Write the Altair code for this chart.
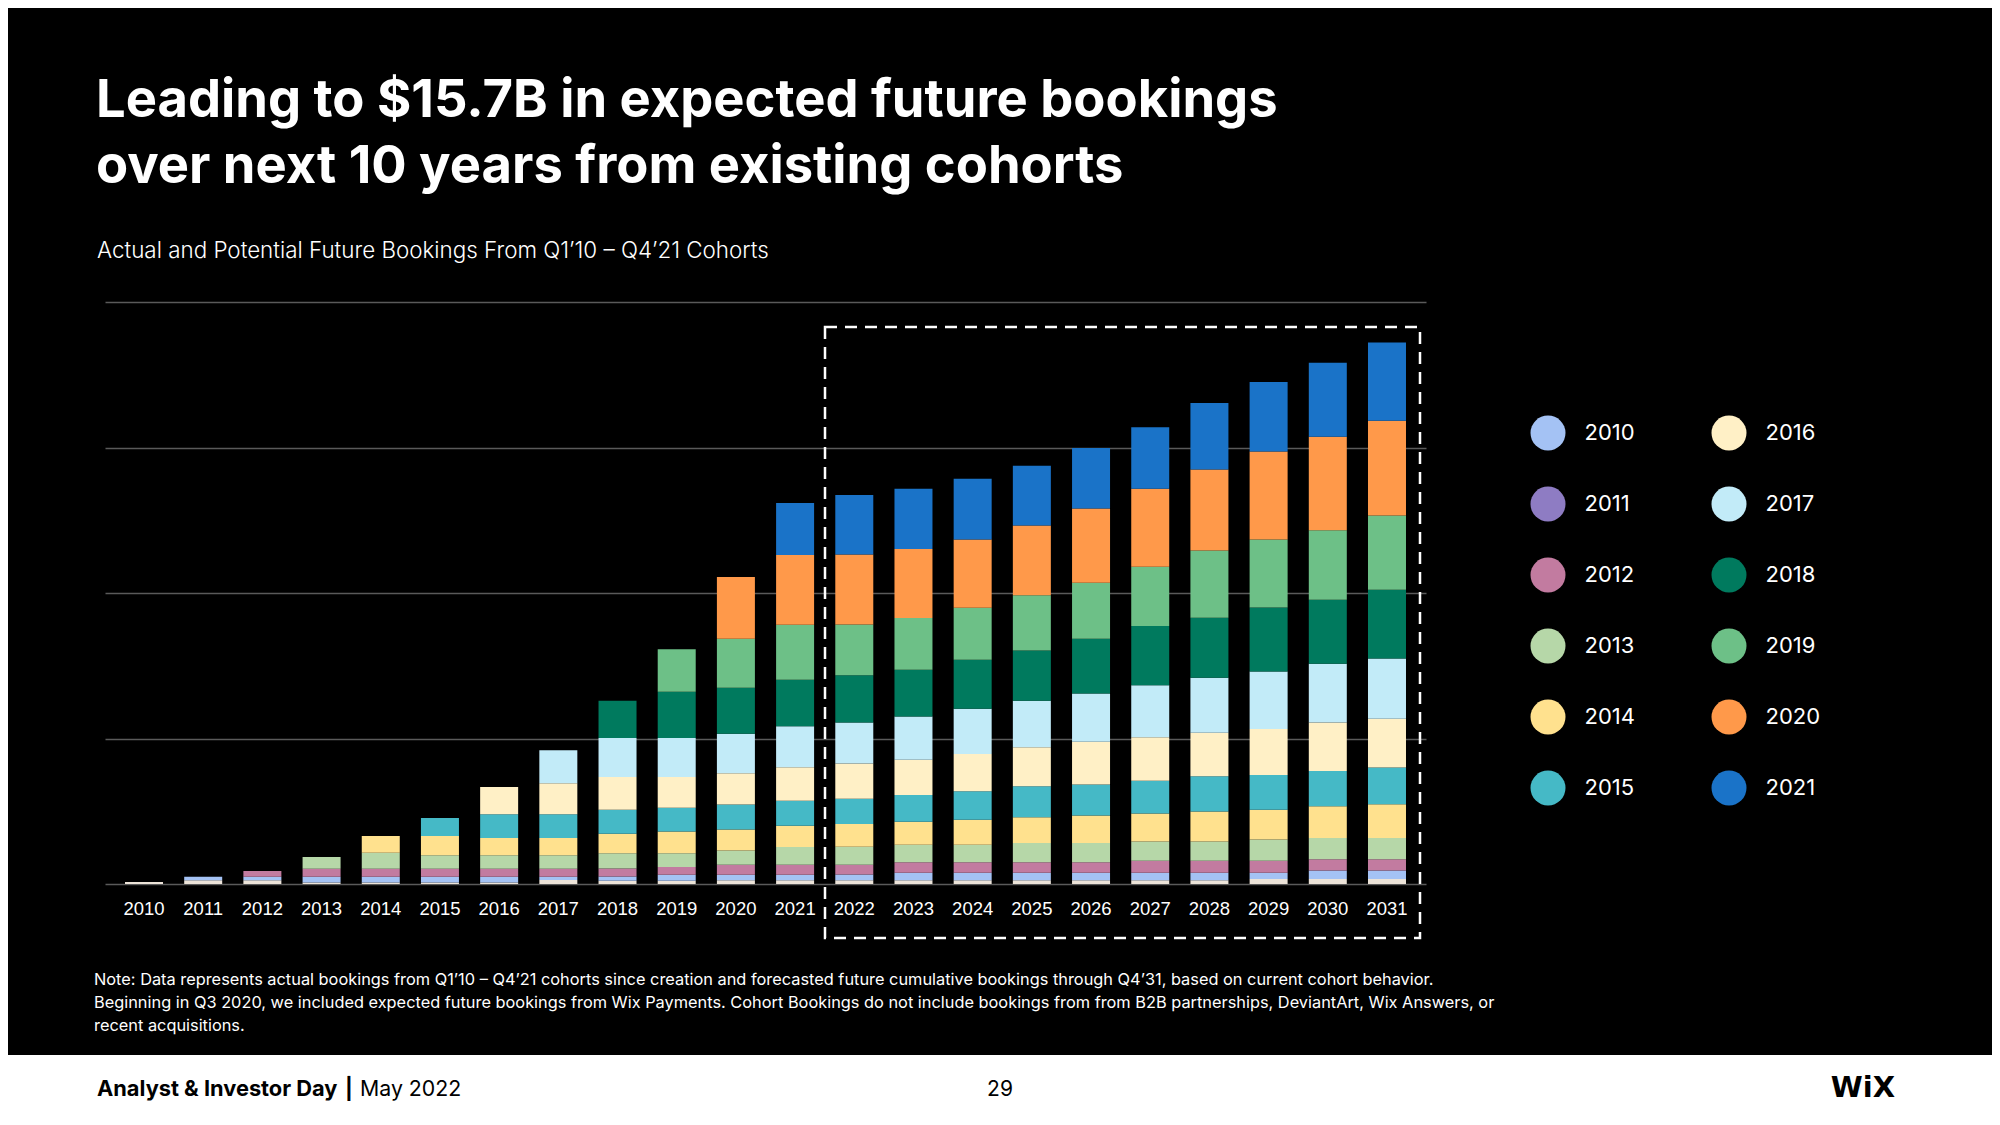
import altair as alt
import pandas as pd

# ---------------- data ----------------
years = [str(y) for y in range(2010, 2032)]
cohorts = [str(y) for y in range(2010, 2022)]

# bookings ($M) contributed by each cohort in each calendar year (2010..2031)
c2010 = [7, 13, 13, 5, 5, 5, 5, 14, 11, 11, 13, 13, 13, 13, 13, 13, 13, 13, 13, 17, 17, 17]
c2011 = [0, 12, 12, 20, 20, 20, 20, 11, 15, 21, 19, 19, 20, 26, 26, 26, 26, 26, 26, 22, 29, 29]
c2012 = [0, 0, 20, 27, 27, 27, 27, 27, 27, 26, 34, 34, 33, 36, 36, 36, 36, 41, 41, 41, 39, 39]
c2013 = [0, 0, 0, 41, 55, 47, 47, 47, 53, 48, 49, 61, 62, 60, 60, 66, 66, 66, 66, 73, 73, 73]
c2014 = [0, 0, 0, 0, 58, 66, 59, 59, 67, 74, 72, 73, 78, 79, 86, 88, 94, 96, 103, 102, 109, 116]
c2015 = [0, 0, 0, 0, 0, 62, 82, 82, 82, 82, 86, 86, 87, 92, 98, 107, 107, 113, 121, 120, 121, 126]
c2016 = [0, 0, 0, 0, 0, 0, 93, 106, 113, 106, 108, 115, 121, 121, 128, 134, 147, 149, 150, 158, 167, 168]
c2017 = [0, 0, 0, 0, 0, 0, 0, 114, 134, 134, 135, 141, 141, 149, 155, 160, 166, 179, 189, 197, 202, 207]
c2018 = [0, 0, 0, 0, 0, 0, 0, 0, 128, 159, 158, 160, 162, 160, 169, 172, 188, 204, 206, 220, 220, 236]
c2019 = [0, 0, 0, 0, 0, 0, 0, 0, 0, 146, 169, 189, 175, 178, 178, 190, 192, 203, 231, 234, 239, 255]
c2020 = [0, 0, 0, 0, 0, 0, 0, 0, 0, 0, 212, 240, 240, 237, 235, 240, 255, 268, 278, 302, 321, 326]
c2021 = [0, 0, 0, 0, 0, 0, 0, 0, 0, 0, 0, 178, 205, 207, 209, 205, 208, 212, 229, 239, 254, 269]

series = [c2010, c2011, c2012, c2013, c2014, c2015, c2016, c2017, c2018, c2019, c2020, c2021]

title_lines = ["Leading to $15.7B in expected future bookings",
               "over next 10 years from existing cohorts"]
subtitle = "Actual and Potential Future Bookings From Q1\u201910 \u2013 Q4\u201921 Cohorts"
note_lines = [
    "Note: Data represents actual bookings from Q1\u201910 \u2013 Q4\u201921 cohorts since creation and forecasted future cumulative bookings through Q4\u201931, based on current cohort behavior.",
    "Beginning in Q3 2020, we included expected future bookings from Wix Payments. Cohort Bookings do not include bookings from from B2B partnerships, DeviantArt, Wix Answers, or",
    "recent acquisitions.",
]

# ---------------- styles ----------------
bar_colors = ["#ece3d8", "#a4c2f4", "#c27ba0", "#b6d7a8", "#ffe18e", "#45b9c6",
              "#fff0c6", "#c2ebf8", "#007a5e", "#6dc087", "#ff994a", "#1a73c8"]
legend_colors = ["#a4c2f4", "#8e7cc3", "#c27ba0", "#b6d7a8", "#ffe18e", "#45b9c6",
                 "#fff0c6", "#c2ebf8", "#007a5e", "#6dc087", "#ff994a", "#1a73c8"]

rows = []
for i, (name, vals) in enumerate(zip(cohorts, series)):
    for yr, v in zip(years, vals):
        if v > 0:
            rows.append({"year": yr, "cohort": name, "idx": i, "value": v})
df = pd.DataFrame(rows)

# page -> plot coordinate helpers
PX0, PY0 = 105, 302
W, H = 1321, 582


def px(x):
    return x - PX0


def py(y):
    return y - PY0


one = alt.Data(values=[{}])
FONT = "Inter"


def txt(text, x, y, size, weight="normal", color="white", align="left", font=FONT, line_height=None):
    kw = dict(text=text, font=font, fontSize=size, fontWeight=weight, color=color,
              align=align, baseline="alphabetic")
    if line_height:
        kw["lineHeight"] = line_height
    return alt.Chart(one).mark_text(**kw).encode(x=alt.value(px(x)), y=alt.value(py(y)))


top_strip = alt.Chart(one).mark_rect(color="black").encode(
    x=alt.value(px(8)), x2=alt.value(px(1992)), y=alt.value(py(8)), y2=alt.value(py(10)))
footer_band = alt.Chart(one).mark_rect(color="white").encode(
    x=alt.value(px(8)), x2=alt.value(px(1992)), y=alt.value(py(1055)), y2=alt.value(py(1110)))

bars = alt.Chart(df).mark_bar().encode(
    x=alt.X("year:N", sort=years,
            scale=alt.Scale(paddingInner=0.358, paddingOuter=0.338),
            axis=alt.Axis(title=None, labelAngle=0, labelFont="Liberation Sans",
                          labelFontSize=18.5, labelColor="white", labelPadding=15,
                          ticks=False, domain=False, grid=False)),
    y=alt.Y("value:Q", stack="zero",
            scale=alt.Scale(domain=[0, 2000], nice=False),
            axis=alt.Axis(title=None, labels=False, ticks=False, domain=False,
                          values=[0, 500, 1000, 1500, 2000], grid=True,
                          gridColor="#5a5a5a", gridWidth=1.5)),
    color=alt.Color("cohort:N", scale=alt.Scale(domain=cohorts, range=bar_colors), legend=None),
    order=alt.Order("idx:Q", sort="ascending"),
)

legend_layer = alt.Chart(df).mark_circle(opacity=1).encode(
    color=alt.Color("cohort:N",
                    scale=alt.Scale(domain=cohorts, range=legend_colors),
                    legend=alt.Legend(orient="none", legendX=1425.5, legendY=113.5,
                                      columns=2, title=None, padding=0,
                                      symbolType="circle", symbolSize=1225,
                                      symbolStrokeWidth=0, symbolOpacity=1,
                                      labelFont=FONT, labelFontSize=22, labelColor="white",
                                      labelOffset=19, columnPadding=76, rowPadding=36)),
).transform_filter("false")

box = alt.Chart(one).mark_rect(fillOpacity=0, stroke="white", strokeWidth=2.5,
                               strokeDash=[12, 8]).encode(
    x=alt.value(px(825)), x2=alt.value(px(1420)), y=alt.value(py(327)), y2=alt.value(py(938)))

title = txt(title_lines, 96, 117, 52.5, weight="bold", line_height=66)
sub = txt(subtitle, 97, 258, 22.4, weight=300)
notes = txt(note_lines, 94, 985, 16.35, line_height=23)
foot1 = txt("Analyst & Investor Day", 97, 1096, 21.8, weight="bold", color="black")
foot2 = txt("|", 345, 1096, 21, weight="bold", color="black")
foot3 = txt("May 2022", 360, 1096, 21.3, color="black")
page = txt("29", 1000, 1096, 21, color="black", align="center")
logo = txt("WiX", 1863, 1097, 29, weight=900, color="black", align="center", font="DejaVu Sans")

chart = alt.layer(
    top_strip, footer_band, bars, box, legend_layer,
    title, sub, notes, foot1, foot2, foot3, page, logo,
).resolve_scale(color="independent").properties(
    width=W, height=H, padding=0, background="black",
).configure_view(stroke=None)

chart.save("out.html", embed_options={"renderer": "svg", "actions": False})
